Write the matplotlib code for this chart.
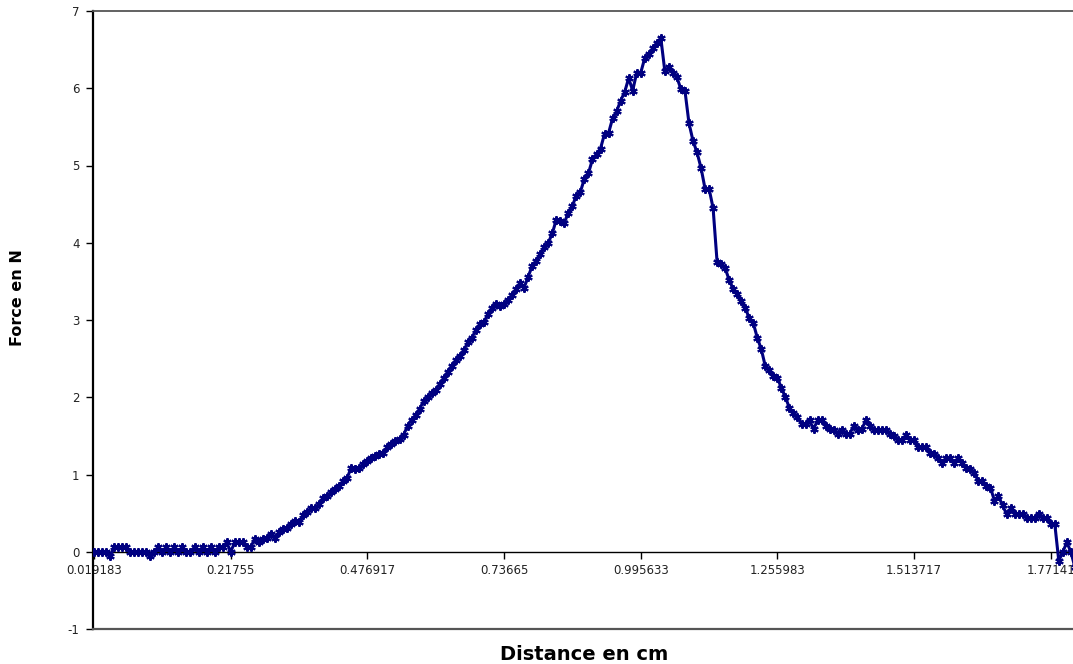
import matplotlib
matplotlib.use("Agg")
import matplotlib.pyplot as plt

force_values = [
    0, 0, 0, 0, -0.06, 0.06, 0.06, 0.06, 0.06, 0,
    0, 0, 0, 0, -0.06, 0, 0.06, 0, 0.06, 0,
    0.06, 0, 0.06, 0, 0, 0.06, 0, 0.06, 0, 0.06,
    0, 0.06, 0.06, 0.12, 0, 0.12, 0.12, 0.12, 0.06, 0.06,
    0.17, 0.12, 0.17, 0.18, 0.23, 0.18, 0.25, 0.30, 0.31, 0.36,
    0.40, 0.38, 0.47, 0.51, 0.56, 0.56, 0.62, 0.70, 0.72, 0.77,
    0.81, 0.85, 0.92, 0.96, 1.09, 1.07, 1.09, 1.13, 1.17, 1.21,
    1.24, 1.27, 1.28, 1.35, 1.40, 1.44, 1.46, 1.51, 1.63, 1.71,
    1.77, 1.85, 1.95, 2.00, 2.05, 2.10, 2.17, 2.25, 2.33, 2.41,
    2.48, 2.54, 2.61, 2.71, 2.77, 2.87, 2.95, 2.97, 3.08, 3.16,
    3.21, 3.18, 3.21, 3.26, 3.33, 3.40, 3.48, 3.42, 3.56, 3.70,
    3.77, 3.85, 3.95, 4.00, 4.12, 4.30, 4.28, 4.26, 4.39, 4.48,
    4.61, 4.66, 4.83, 4.90, 5.08, 5.15, 5.22, 5.41, 5.42, 5.61,
    5.70, 5.84, 5.95, 6.13, 5.97, 6.20, 6.20, 6.39, 6.44, 6.52,
    6.59, 6.65, 6.22, 6.27, 6.20, 6.14, 5.99, 5.97, 5.55, 5.32,
    5.17, 4.97, 4.70, 4.70, 4.45, 3.75, 3.72, 3.67, 3.52, 3.40,
    3.34, 3.25, 3.16, 3.02, 2.96, 2.77, 2.62, 2.40, 2.35, 2.28,
    2.25, 2.12, 2.00, 1.86, 1.79, 1.74, 1.66, 1.66, 1.70, 1.59,
    1.70, 1.70, 1.63, 1.59, 1.58, 1.53, 1.57, 1.53, 1.53, 1.63,
    1.57, 1.59, 1.70, 1.63, 1.58, 1.57, 1.57, 1.58, 1.53, 1.50,
    1.45, 1.45, 1.51, 1.45, 1.45, 1.35, 1.35, 1.35, 1.28, 1.27,
    1.22, 1.15, 1.22, 1.22, 1.15, 1.22, 1.15, 1.09, 1.07, 1.02,
    0.92, 0.92, 0.85, 0.83, 0.66, 0.72, 0.60, 0.49, 0.56, 0.49,
    0.49, 0.49, 0.44, 0.44, 0.44, 0.49, 0.44, 0.44, 0.36, 0.36,
    -0.12, 0, 0.12, 0, -0.2,
]

# Category axis tick labels (distance in cm) and their category positions
tick_labels = ["0.019183", "0.21755", "0.476917", "0.73665",
               "0.995633", "1.255983", "1.513717", "1.77141"]
tick_positions = [0, 34, 68, 102, 136, 170, 204, 238]

y_ticks = [-1, 0, 1, 2, 3, 4, 5, 6, 7]

x_title = "Distance en cm"
y_title = "Force en N"

W, H = 1073, 664
fig = plt.figure(figsize=(W / 100, H / 100), dpi=100)
fig.patch.set_facecolor("white")

left_px, right_px, top_px, bottom_px = 93.3, 1090, 11, 629
ax = fig.add_axes([left_px / W, (H - bottom_px) / H,
                   (right_px - left_px) / W, (bottom_px - top_px) / H])

x = list(range(len(force_values)))
ax.plot(x, force_values, color="#000080", lw=2.2,
        marker=(6, 2, 0), markersize=6, markeredgewidth=1.5,
        markeredgecolor="#000080", clip_on=True, zorder=3)

step = 4.02
ax.set_xlim((left_px - 94) / step, (right_px - 94) / step)
ax.set_ylim(-1, 7)

# borders
ax.spines["left"].set_color("black")
ax.spines["left"].set_linewidth(1.6)
ax.spines["top"].set_color("#555555")
ax.spines["top"].set_linewidth(1.3)
ax.spines["right"].set_visible(False)
ax.spines["bottom"].set_position(("data", 0))
ax.spines["bottom"].set_color("black")
ax.spines["bottom"].set_linewidth(1.0)
ax.axhline(-1, color="#555555", lw=1.6, clip_on=False, zorder=4)

ax.set_yticks(y_ticks)
ax.set_yticklabels([str(v) for v in y_ticks])
ax.set_xticks(tick_positions)
ax.set_xticklabels(tick_labels)

ax.tick_params(axis="y", direction="out", length=5, width=1, color="black",
               pad=5, labelsize=8.5, labelcolor="#222222")
ax.tick_params(axis="x", direction="out", length=5, width=1, color="black",
               pad=4, labelsize=8.5, labelcolor="#222222")
for lab in ax.get_xticklabels() + ax.get_yticklabels():
    lab.set_family("DejaVu Sans")

fig.text(584 / W, 1 - 655 / H, x_title, ha="center", va="center",
         fontsize=14, fontweight="bold", family="DejaVu Sans")
fig.text(18 / W, 1 - 298 / H, y_title, ha="center", va="center",
         rotation=90, fontsize=11.5, fontweight="bold", family="DejaVu Sans")

fig.savefig("out.png", dpi=100, facecolor="white")
